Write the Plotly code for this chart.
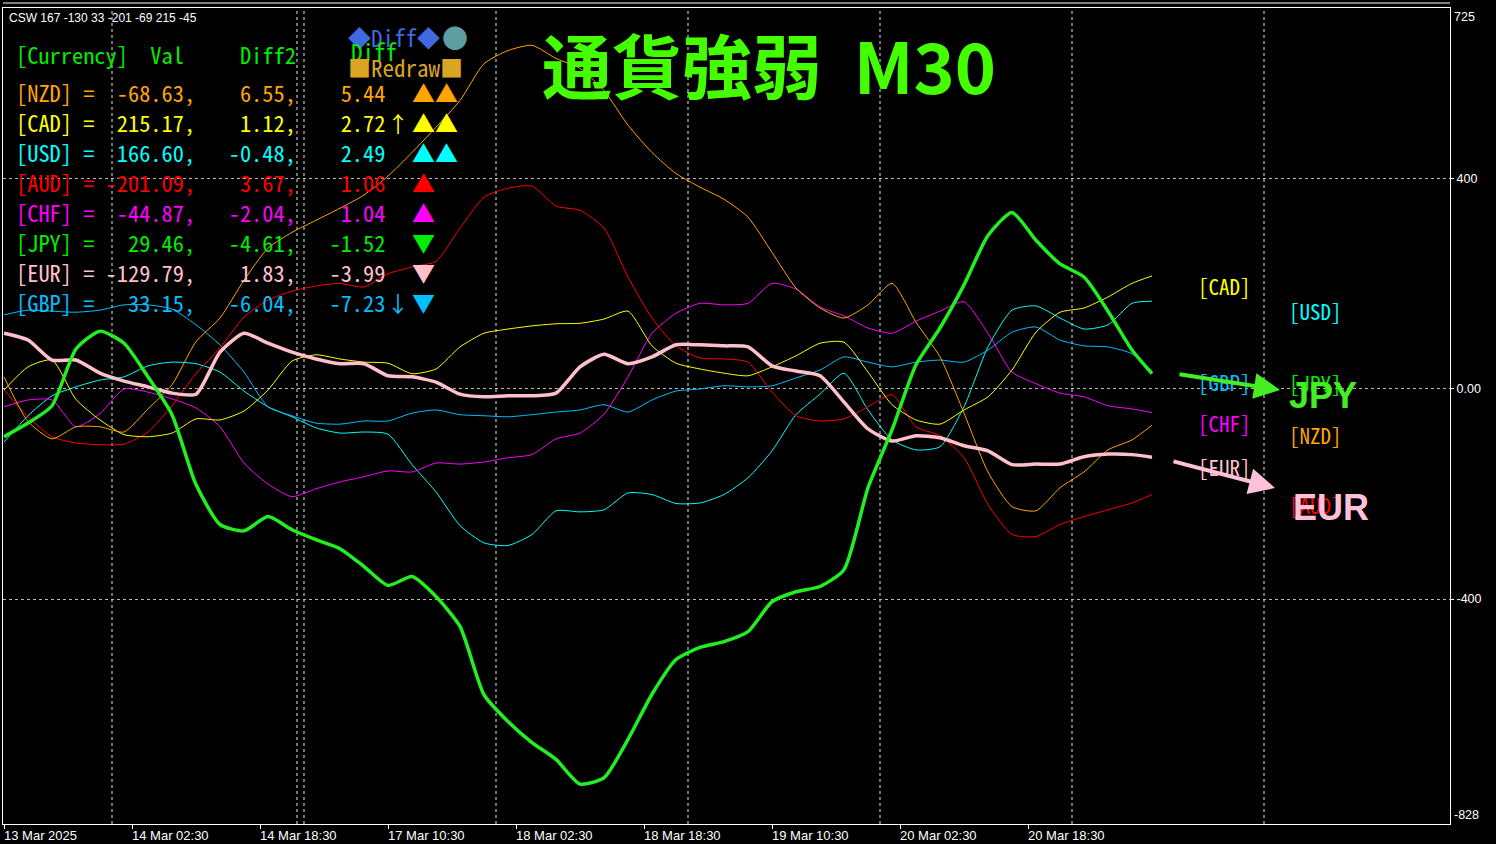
import plotly.graph_objects as go

# M30 bar index of each sampled point (13 Mar 2025 10:30 = bar 0)
bars = [0, 6, 12, 18, 24, 30, 36, 42, 48, 54, 60, 66, 72, 78, 84, 90, 96, 102,
        108, 114, 120, 126, 132, 138, 144, 150, 156, 162, 168, 174, 180, 186,
        192, 198, 204, 210, 216, 222, 228, 234, 240, 246, 252, 258, 264, 270,
        276, 282, 287]

nzd = [23, -62, -95, -72, -72, -82, -38, 8, 90, 135, 207, 268, 298, 321, 344,
       369, 405, 450, 498, 549, 619, 644, 654, 629, 610, 568, 502, 450, 410,
       384, 361, 327, 260, 192, 154, 135, 160, 201, 127, 61, -46, -158, -224,
       -232, -188, -158, -116, -97, -69]
cad = [-2, 42, 55, -20, -59, -87, -91, -84, -57, -59, -42, -2, 53, 65, 57, 51,
       49, 29, 38, 80, 106, 114, 120, 124, 125, 133, 148, 82, 49, 38, 30, 25,
       42, 63, 87, 89, 32, -30, -59, -67, -40, -15, 36, 108, 146, 154, 175,
       201, 215]
usd = [-101, -51, -13, 4, 17, 23, 44, 51, 48, 32, -4, -34, -53, -74, -84, -82,
       -86, -144, -196, -260, -293, -298, -277, -232, -234, -230, -198, -201,
       -218, -217, -201, -169, -118, -49, -10, 30, -40, -97, -116, -110, -34,
       80, 150, 158, 135, 114, 122, 163, 167]
aud = [-2, -53, -91, -103, -106, -105, -82, -32, 29, 78, 137, 169, 186, 196,
       201, 194, 219, 232, 243, 306, 365, 382, 386, 348, 340, 306, 213, 135,
       82, 59, 57, 51, -6, -51, -61, -57, -34, -11, -72, -89, -131, -220,
       -277, -281, -258, -243, -230, -217, -201]
chf = [-34, -21, -21, -72, -47, 0, -6, -19, -36, -72, -141, -181, -205, -190,
       -177, -167, -156, -158, -141, -143, -139, -131, -125, -95, -84, -48,
       23, 106, 144, 163, 160, 163, 201, 190, 156, 139, 116, 106, 129, 148,
       166, 106, 32, 10, -8, -15, -32, -38, -45]
jpy = [-91, -65, -32, 76, 110, 87, 23, -49, -182, -258, -270, -243, -268,
       -287, -304, -338, -374, -357, -395, -452, -582, -633, -673, -705, -752,
       -740, -667, -581, -515, -492, -481, -462, -405, -386, -376, -344, -188,
       -78, 46, 116, 198, 292, 336, 283, 238, 213, 148, 74, 29]
eur = [106, 93, 55, 55, 30, 15, 4, -8, -10, 70, 106, 87, 70, 57, 48, 48, 25,
       23, 13, -10, -15, -13, -13, -8, 42, 66, 48, 61, 84, 84, 82, 80, 44, 34,
       25, -25, -76, -99, -89, -93, -108, -118, -144, -143, -143, -129, -124,
       -125, -130]
gbp = [141, 150, 148, 146, 150, 160, 160, 152, 122, 84, 32, -34, -51, -65,
       -67, -61, -61, -46, -40, -49, -51, -53, -49, -44, -40, -30, -44, -21,
       -4, 0, 6, 4, 6, 21, 36, 61, 51, 42, 51, 55, 51, 74, 108, 118, 93, 82,
       80, 67, 33]

# panel table (last values)
currencies = ["NZD", "CAD", "USD", "AUD", "CHF", "JPY", "EUR", "GBP"]
val = [-68.63, 215.17, 166.60, -201.09, -44.87, 29.46, -129.79, 33.15]
diff2 = [6.55, 1.12, -0.48, 3.67, -2.04, -4.61, 1.83, -6.04]
diff = [5.44, 2.72, 2.49, 1.06, 1.04, -1.52, -3.99, -7.23]
marks = ["▲▲", "▲▲", "▲▲", "▲", "▲", "▼", "▼", "▼"]
arrows = ["", "↑", "", "", "", "", "", "↓"]

tick_bars = [0, 32, 64, 96, 128, 160, 192, 224, 256]
tick_labels = ["13 Mar 2025", "14 Mar 02:30", "14 Mar 18:30", "17 Mar 10:30",
               "18 Mar 02:30", "18 Mar 18:30", "19 Mar 10:30", "20 Mar 02:30",
               "20 Mar 18:30"]
separator_bars = [27, 73.25, 75, 123, 171, 219, 267, 315]

colors = {
    "NZD": "#FFA500", "CAD": "#FFFF00", "USD": "#00FFFF", "AUD": "#FF0000",
    "CHF": "#FF00FF", "JPY": "#22EE22", "EUR": "#FFC0CB", "GBP": "#00BFFF",
}
series = {"NZD": nzd, "CAD": cad, "USD": usd, "AUD": aud, "CHF": chf,
          "JPY": jpy, "EUR": eur, "GBP": gbp}

MONO = "Noto Sans Mono CJK JP, Liberation Mono, monospace"
NB = "\u00a0"
TABLE_SIZE = 22.4


def px_x(px):
    return (px - 3) / 1447


def px_y(py):
    return (824 - py) / 816


fig = go.Figure()

# thin lines first, the two extremes drawn thick on top
for cur in ["USD", "GBP", "CHF", "AUD", "CAD", "NZD", "EUR", "JPY"]:
    thick = cur in ("EUR", "JPY")
    fig.add_trace(
        go.Scatter(
            x=bars,
            y=series[cur],
            mode="lines",
            name=cur,
            line=dict(color=colors[cur], width=3.5 if thick else 1,
                      shape="spline", smoothing=0.6),
            hoverinfo="x+y+name",
        )
    )

shapes = []
for b in separator_bars:
    shapes.append(dict(type="line", xref="x", yref="paper", x0=b, x1=b, y0=0, y1=1,
                       line=dict(color="#e8e8e8", width=1, dash="3px,3px"), layer="below"))
shapes.append(dict(type="line", xref="paper", yref="paper", x0=0, x1=1,
                   y0=px_y(3), y1=px_y(3), line=dict(color="white", width=1)))

ann = []
# x labels (left aligned at the tick, MT style)
for b, lab in zip(tick_bars, tick_labels):
    ann.append(dict(x=b, y=0, xref="x", yref="paper", text=lab, showarrow=False,
                    xanchor="left", yanchor="top", yshift=-2, xshift=-2,
                    font=dict(family="Liberation Sans", size=13, color="white")))
# edge labels of the price scale
ann.append(dict(x=1, y=725, xref="paper", yref="y", text="725", showarrow=False,
                xanchor="left", yanchor="top", xshift=2,
                font=dict(family="Liberation Sans", size=12.5, color="white")))
ann.append(dict(x=1, y=-828, xref="paper", yref="y", text="-828", showarrow=False,
                xanchor="left", yanchor="bottom", xshift=2,
                font=dict(family="Liberation Sans", size=12.5, color="white")))

# top-left info line
csw_order = ["USD", "EUR", "GBP", "AUD", "NZD", "CAD", "CHF"]
csw = "CSW " + " ".join(str(round(val[currencies.index(c)])) for c in csw_order)
ann.append(dict(x=px_x(7), y=px_y(18), xref="paper", yref="paper", text=csw,
                showarrow=False, xanchor="left", yanchor="middle",
                font=dict(family="Liberation Sans", size=12, color="white")))

# title
ann.append(dict(x=px_x(769), y=px_y(64), xref="paper", yref="paper",
                text="<b>通貨強弱" + NB * 2 + "M30</b>", showarrow=False,
                xanchor="center", yanchor="middle",
                font=dict(family="Noto Sans CJK JP", size=70, color="#44FF00")))

# panel table
header = "[Currency]  Val     Diff2".replace(" ", NB)
ann.append(dict(x=px_x(14), y=px_y(54), xref="paper", yref="paper", text=header,
                showarrow=False, xanchor="left", yanchor="middle",
                font=dict(family=MONO, size=TABLE_SIZE, color="#00EE00")))
for i, cur in enumerate(currencies):
    row_y = px_y(92 + 30 * i)
    txt = f"[{cur}] ={val[i]:>8.2f},{diff2[i]:>8.2f},{diff[i]:>8.2f}".replace(" ", NB)
    col = colors[cur] if cur != "JPY" else "#00EE00"
    ann.append(dict(x=px_x(14), y=row_y, xref="paper", yref="paper", text=txt,
                    showarrow=False, xanchor="left", yanchor="middle",
                    font=dict(family=MONO, size=TABLE_SIZE, color=col)))
    if arrows[i]:
        ann.append(dict(x=px_x(398), y=row_y, xref="paper", yref="paper",
                        text=arrows[i], showarrow=False, xanchor="center",
                        yanchor="middle", font=dict(family=MONO, size=22, color=col)))
    ann.append(dict(x=px_x(410), y=row_y, xref="paper", yref="paper", text=marks[i],
                    showarrow=False, xanchor="left", yanchor="middle",
                    font=dict(family=MONO, size=23, color=col)))

# Diff / Redraw buttons
ann.append(dict(x=px_x(346), y=px_y(37), xref="paper", yref="paper", text="◆Diff◆",
                showarrow=False, xanchor="left", yanchor="middle",
                font=dict(family=MONO, size=23, color="#4169E1")))
ann.append(dict(x=px_x(455), y=px_y(37), xref="paper", yref="paper", text="●",
                showarrow=False, xanchor="center", yanchor="middle",
                font=dict(family=MONO, size=26, color="#5F9EA0")))
ann.append(dict(x=px_x(349), y=px_y(51), xref="paper", yref="paper", text="Diff",
                showarrow=False, xanchor="left", yanchor="middle",
                font=dict(family=MONO, size=23, color="#00EE00")))
ann.append(dict(x=px_x(346), y=px_y(67), xref="paper", yref="paper", text="■Redraw■",
                showarrow=False, xanchor="left", yanchor="middle",
                font=dict(family=MONO, size=23, color="#DAA520")))

# ranking labels on the right, alternating columns by strength
ranked = sorted(range(len(currencies)), key=lambda k: -val[k])
for r, k in enumerate(ranked):
    cur = currencies[k]
    ann.append(dict(x=305 if r % 2 == 0 else 327.75, y=val[k], xref="x", yref="y",
                    text=f"[{cur}]", showarrow=False, xanchor="center",
                    yanchor="middle", yshift=-10,
                    font=dict(family=MONO, size=21, color=colors[cur] if cur != "JPY" else "#00EE00")))

# strongest / weakest arrows
ann.append(dict(x=px_x(1280), y=px_y(390), xref="paper", yref="paper", text="",
                showarrow=True, ax=-102, ay=-16, arrowcolor="#44EE22",
                arrowwidth=4, arrowhead=2, arrowsize=1.3, standoff=0))
ann.append(dict(x=px_x(1275), y=px_y(488), xref="paper", yref="paper", text="",
                showarrow=True, ax=-103, ay=-27, arrowcolor="#FFC0DC",
                arrowwidth=4, arrowhead=2, arrowsize=1.3, standoff=0))
ann.append(dict(x=px_x(1323), y=px_y(395), xref="paper", yref="paper", text="<b>JPY</b>",
                showarrow=False, xanchor="center", yanchor="middle",
                font=dict(family="Liberation Sans", size=36, color="#44EE22")))
ann.append(dict(x=px_x(1331), y=px_y(507), xref="paper", yref="paper", text="<b>EUR</b>",
                showarrow=False, xanchor="center", yanchor="middle",
                font=dict(family="Liberation Sans", size=36, color="#FFC0DC")))

fig.update_layout(
    width=1496,
    height=844,
    paper_bgcolor="black",
    plot_bgcolor="black",
    margin=dict(l=3, r=46, t=8, b=20),
    showlegend=False,
    shapes=shapes,
    annotations=ann,
    font=dict(color="white"),
)
fig.update_xaxes(
    range=[-0.25, 361.5],
    showgrid=False,
    zeroline=False,
    showline=True,
    linecolor="white",
    linewidth=1,
    mirror=True,
    ticks="outside",
    tickvals=tick_bars,
    ticklen=4,
    tickcolor="white",
    showticklabels=False,
)
fig.update_yaxes(
    side="right",
    range=[-828, 725],
    tickvals=[400, 0, -400],
    ticktext=["400", "0.00", "-400"],
    showgrid=True,
    gridcolor="#b8b8b8",
    griddash="3px,3px",
    gridwidth=1,
    zeroline=False,
    showline=True,
    linecolor="white",
    linewidth=1,
    mirror=True,
    ticks="outside",
    ticklen=3,
    tickcolor="white",
    tickfont=dict(family="Liberation Sans", size=12.5, color="white"),
)

fig.write_html(
    "out.html",
    config={"displayModeBar": False},
    post_script="document.body.style.margin='0';document.body.style.overflow='hidden';",
)
